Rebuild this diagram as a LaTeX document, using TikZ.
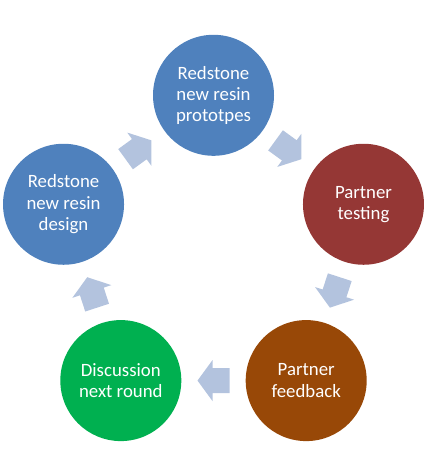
\documentclass[tikz,border=0pt]{standalone}
\usepackage{fontspec}
\setmainfont{Carlito}
\usetikzlibrary{calc}
\definecolor{cblue}{HTML}{4F81BD}
\definecolor{cred}{HTML}{953735}
\definecolor{cbrown}{HTML}{984807}
\definecolor{cgreen}{HTML}{00B050}
\definecolor{carrow}{HTML}{B3C3DE}
\tikzset{
  stage/.style={circle, minimum size=121pt, inner sep=0pt, text=white, align=center,
    font=\fontsize{18.8}{21.3}\selectfont},
  blockarrow/.pic={\fill[carrow] (-16,-12.5) -- (1,-12.5) -- (1,-20.5) -- (16,0) -- (1,20.5) -- (1,12.5) -- (-16,12.5) -- cycle;}
}
\begin{document}
\begin{tikzpicture}[x=1pt,y=1pt]
\useasboundingbox (0,0) rectangle (427,476);
\coordinate (o) at (213.5,223);
\node[stage, fill=cblue]  (c1) at ($(o)+(90:157.7)$)   {Redstone\\new resin\\prototpes};
\node[stage, fill=cred]   (c2) at ($(o)+(18:157.7)$)   {Partner\\testing};
\node[stage, fill=cbrown] (c3) at ($(o)+(-54:157.7)$)  {Partner\\feedback};
\node[stage, fill=cgreen] (c4) at ($(o)+(-126:157.7)$) {Discussion\\next round};
\node[stage, fill=cblue]  (c5) at ($(o)+(162:157.7)$)  {Redstone\\new resin\\design};
\pic[rotate=-36]  at ($(c1)!0.5!(c2)$) {blockarrow};
\pic[rotate=-108] at ($(c2)!0.5!(c3)$) {blockarrow};
\pic[rotate=180]  at ($(c3)!0.5!(c4)$) {blockarrow};
\pic[rotate=108]  at ($(c4)!0.5!(c5)$) {blockarrow};
\pic[rotate=36]   at ($(c5)!0.5!(c1)$) {blockarrow};
\end{tikzpicture}
\end{document}
